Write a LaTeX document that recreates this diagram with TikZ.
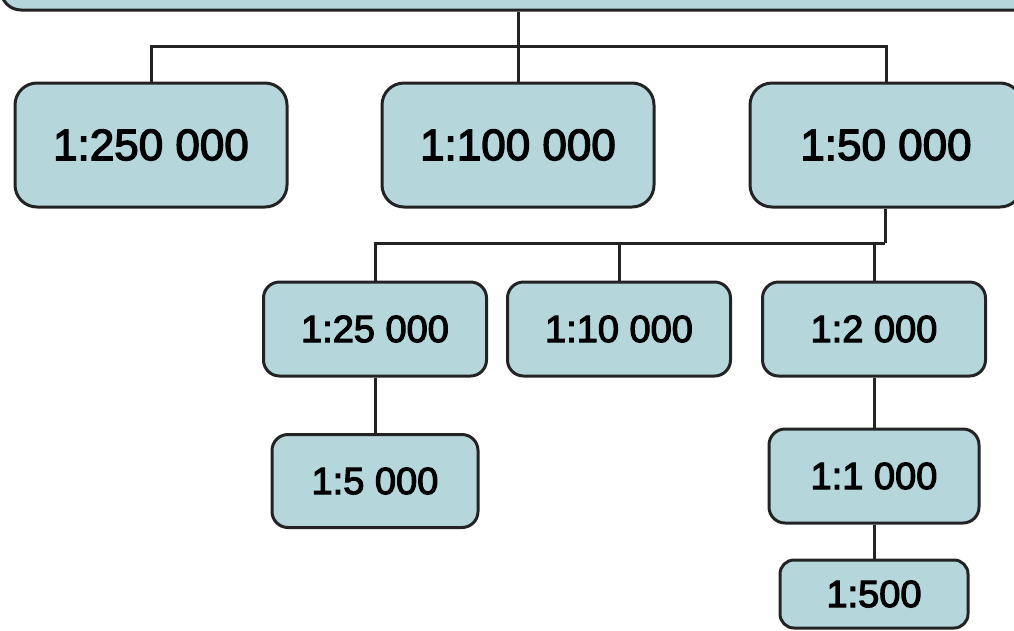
\documentclass[tikz,border=0pt]{standalone}
\usepackage{fontspec}
\setmainfont{Liberation Sans}[FakeBold=3]
\newcommand*{\lw}{3pt}
\newcommand*{\fbig}{\fontsize{44}{50}\selectfont}
\newcommand*{\fsmall}{\fontsize{38}{44}\selectfont}
\definecolor{boxfill}{RGB}{181,214,219}
\definecolor{boxline}{RGB}{35,35,35}
\tikzset{
	mapbox/.style n args={3}{
		rectangle,
		rounded corners = #3,
		minimum width = #1,
		minimum height = #2,
		fill = boxfill,
		draw = boxline,
		line width = \lw,
		inner sep = 0pt,
		},
	link/.style={
		draw = boxline,
		line width = \lw,
		}
	}
\begin{document}
\begin{tikzpicture}[x=1pt,y=-1pt]
	\useasboundingbox (0,0) rectangle (1014,630);
	% top box, cut off by the page
	\node (top) [mapbox={1034pt}{130pt}{20pt}] at (518,-55) {};
	% first level
	\foreach \name/\x/\txt in {n250/151/{1:250 000},n100/518/{1:100 000},n50/886/{1:50 000}} {
		\node (\name) [mapbox={272pt}{124pt}{22pt}, font=\fbig] at (\x,145) {\txt};
	};
	% second level
	\foreach \name/\x/\txt in {n25/375/{1:25 000},n10/619/{1:10 000},n2/874/{1:2 000}} {
		\node (\name) [mapbox={223pt}{94pt}{16pt}, font=\fsmall] at (\x,329) {\txt};
	};
	\node (n5)   [mapbox={206pt}{93pt}{16pt}, font=\fsmall] at (375,481) {1:5 000};
	\node (n1)   [mapbox={210pt}{94pt}{16pt}, font=\fsmall] at (874,476) {1:1 000};
	\node (n500) [mapbox={188pt}{68pt}{14pt}, font=\fsmall] at (874,594) {1:500};
	% connectors
	\coordinate (busa) at (518,46);
	\coordinate (busb) at (885,243);
	\draw [link] (top.south) -- (n100.north);
	\draw [link] (n250.north) |- (busa) -| (n50.north);
	\draw [link] (n50.south -| busb) -- (busb);
	\draw [link] (n25.north) |- (busb);
	\draw [link] (n10.north) -- (n10.north |- busb);
	\draw [link] (n2.north) -- (n2.north |- busb);
	\draw [link] (n25.south) -- (n5.north);
	\draw [link] (n2.south) -- (n1.north);
	\draw [link] (n1.south) -- (n500.north);
\end{tikzpicture}
\end{document}
